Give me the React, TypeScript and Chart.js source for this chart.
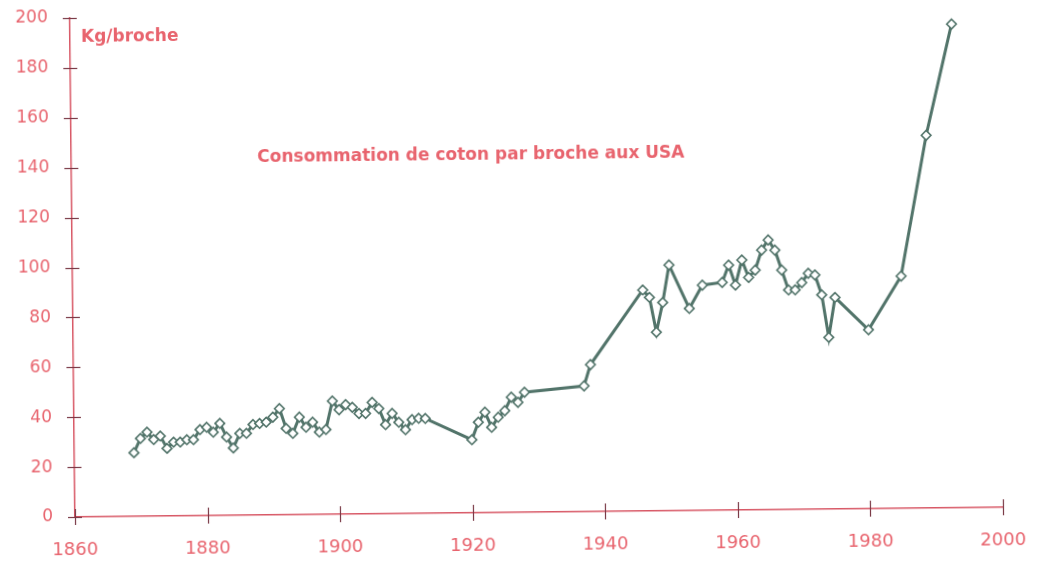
import React, { useEffect, useRef } from 'react';
import { Chart, registerables } from 'chart.js';

Chart.register(...registerables);

// Years of observation
const years: number[] = [
  1869, 1870, 1871, 1872, 1873, 1874, 1875, 1876, 1877, 1878, 1879,
  1880, 1881, 1882, 1883, 1884, 1885, 1886, 1887, 1888, 1889,
  1890, 1891, 1892, 1893, 1894, 1895, 1896, 1897, 1898, 1899,
  1900, 1901, 1902, 1903, 1904, 1905, 1906, 1907, 1908, 1909,
  1910, 1911, 1912, 1913,
  1920, 1921, 1922, 1923, 1924, 1925, 1926, 1927, 1928,
  1937, 1938,
  1946, 1947, 1948, 1949, 1950, 1953, 1955, 1958, 1959,
  1960, 1961, 1962, 1963, 1964, 1965, 1966, 1967, 1968, 1969,
  1970, 1971, 1972, 1973, 1974, 1975,
  1980, 1985, 1989, 1993,
];

// Kg of cotton per spindle
const kgPerSpindle: number[] = [
  25.5, 31.2, 33.7, 30.7, 32.1, 27.1, 29.6, 29.6, 30.5, 30.5, 34.5,
  35.4, 33.4, 36.9, 31.4, 27.0, 32.8, 32.8, 36.3, 36.7, 37.2,
  39.2, 42.6, 34.6, 32.6, 39.1, 35.0, 37.0, 33.0, 34.0, 45.4,
  41.9, 43.9, 42.8, 40.3, 40.3, 44.7, 42.2, 35.7, 40.2, 36.6,
  33.6, 37.6, 38.1, 38.0,
  29.3, 36.3, 40.3, 34.2, 38.2, 40.8, 46.2, 44.1, 48.1,
  50.4, 58.9,
  88.6, 85.6, 71.6, 83.5, 98.5, 81.0, 90.3, 91.3, 98.2,
  90.2, 100.2, 93.2, 96.1, 104.1, 108.1, 104.0, 96.0, 88.0, 88.0,
  90.9, 94.6, 93.9, 85.9, 68.8, 84.8,
  71.7, 93.1, 149.4, 193.9,
];

const xTickValues: number[] = [1860, 1880, 1900, 1920, 1940, 1960, 1980, 2000];
const yTickValues: number[] = [0, 20, 40, 60, 80, 100, 120, 140, 160, 180, 200];

const chartTitle = 'Consommation de coton par broche aux USA';
const unitLabel = 'Kg/broche';

const PINK = '#e8646e';
const AXIS = '#d85866';
const TICK = '#7a3a46';
const LINE = 'rgb(82,116,106)';

const zeroPadding = (s: any) => {
  s.paddingTop = 0;
  s.paddingBottom = 0;
  s.paddingLeft = 0;
  s.paddingRight = 0;
};

const crossTicks = {
  id: 'crossTicks',
  afterDraw(chart: any) {
    const { ctx, chartArea, scales } = chart;
    ctx.save();
    ctx.strokeStyle = TICK;
    ctx.lineWidth = 1.2;
    yTickValues.forEach((v) => {
      const y = Math.round(scales.y.getPixelForValue(v)) + 0.5;
      ctx.beginPath();
      ctx.moveTo(chartArea.left - 7, y);
      ctx.lineTo(chartArea.left + 7, y);
      ctx.stroke();
    });
    xTickValues.forEach((v) => {
      const x = Math.round(scales.x.getPixelForValue(v)) + 0.5;
      ctx.beginPath();
      ctx.moveTo(x, chartArea.bottom - 8);
      ctx.lineTo(x, chartArea.bottom + 8);
      ctx.stroke();
    });
    ctx.fillStyle = PINK;
    ctx.font = 'bold 17px "DejaVu Sans"';
    ctx.textAlign = 'left';
    ctx.textBaseline = 'alphabetic';
    ctx.fillText(unitLabel, chartArea.left + 11, 42);
    ctx.fillText(chartTitle, 261, 164);
    ctx.restore();
  },
};

export default function App() {
  const canvasRef = useRef<HTMLCanvasElement | null>(null);

  useEffect(() => {
    const canvas = canvasRef.current;
    if (!canvas) return;
    const chart = new Chart(canvas, {
      type: 'line',
      data: {
        datasets: [
          {
            label: unitLabel,
            data: years.map((y, i) => ({ x: y, y: kgPerSpindle[i] })),
            borderColor: LINE,
            borderWidth: 3,
            pointStyle: 'rectRot',
            pointRadius: 4.8,
            pointBorderWidth: 1.6,
            pointBorderColor: LINE,
            pointBackgroundColor: '#ffffff',
            tension: 0,
          },
        ],
      },
      options: {
        responsive: false,
        animation: false,
        devicePixelRatio: 1,
        layout: { padding: { top: 18, right: 38, left: 0, bottom: 0 } },
        plugins: {
          legend: { display: false },
          tooltip: { enabled: false },
          title: { display: false },
        },
        scales: {
          x: {
            type: 'linear',
            min: 1860,
            max: 2000,
            afterFit: (s: any) => { s.height = 48; zeroPadding(s); },
            afterBuildTicks: (s: any) => { s.ticks = xTickValues.map((v) => ({ value: v })); },
            grid: { display: false, drawTicks: false },
            border: { display: true, color: AXIS, width: 1.5 },
            ticks: {
              color: PINK,
              padding: 23,
              maxRotation: 0,
              font: { family: '"DejaVu Sans"', size: 18 },
              callback: (v: any) => String(v),
            },
          },
          y: {
            type: 'linear',
            min: 0,
            max: 200,
            afterFit: (s: any) => { s.width = 75; zeroPadding(s); },
            afterBuildTicks: (s: any) => { s.ticks = yTickValues.map((v) => ({ value: v })); },
            grid: { display: false, drawTicks: false },
            border: { display: true, color: AXIS, width: 1.5 },
            ticks: {
              color: PINK,
              padding: 22,
              font: { family: '"DejaVu Sans"', size: 17 },
              callback: (v: any) => String(v),
            },
          },
        },
      },
      plugins: [crossTicks],
    });
    return () => chart.destroy();
  }, []);

  return (
    <div style={{ position: 'fixed', left: 0, top: 0, width: 1041, height: 565, background: '#ffffff', overflow: 'hidden' }}>
      <canvas
        ref={canvasRef}
        width={1041}
        height={565}
        style={{
          display: 'block',
          width: 1041,
          height: 565,
          transform: 'rotate(-0.6deg)',
          transformOrigin: '75px 517px',
        }}
      />
    </div>
  );
}
